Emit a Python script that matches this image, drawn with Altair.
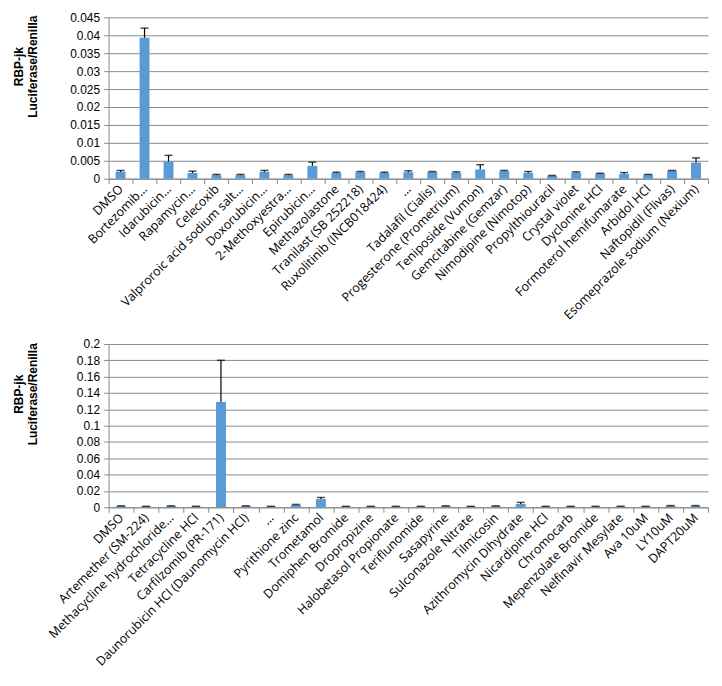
import altair as alt
import pandas as pd

# ---------------- data ----------------
top_names = [
    "DMSO", "Bortezomib…", "Idarubicin…", "Rapamycin…", "Celecoxib",
    "Valproroic acid sodium salt…", "Doxorubicin…", "2-Methoxyestra…", "Epirubicin…",
    "Methazolastone", "Tranilast (SB 252218)", "Ruxolitinib (INCB018424)", "…",
    "Tadalafil (Cialis)", "Progesterone (Prometrium)", "Teniposide (Vumon)",
    "Gemcitabine (Gemzar)", "Nimodipine (Nimotop)", "Propylthiouracil", "Crystal violet",
    "Dyclonine HCl", "Formoterol hemifumarate", "Arbidol HCl", "Naftopidil (Flivas)",
    "Esomeprazole sodium (Nexium)",
]
top_values = [0.0019, 0.0393, 0.0048, 0.0016, 0.0010, 0.0010, 0.0019, 0.0010, 0.0036,
              0.0016, 0.0018, 0.0016, 0.0018, 0.0019, 0.0017, 0.0026, 0.0021, 0.0016,
              0.0008, 0.0017, 0.0014, 0.0013, 0.0011, 0.0022, 0.0045]
top_errors = [0.0004, 0.0027, 0.0017, 0.0005, 0.0002, 0.0002, 0.0004, 0.0002, 0.0010,
              0.0002, 0.0002, 0.0002, 0.0004, 0.0001, 0.0002, 0.0013, 0.0002, 0.0004,
              0.0001, 0.0002, 0.0001, 0.0004, 0.0001, 0.0001, 0.0013]
top_ticks = [0, 0.005, 0.01, 0.015, 0.02, 0.025, 0.03, 0.035, 0.04, 0.045]

bottom_names = [
    "DMSO", "Artemether (SM-224)", "Methacycline hydrochloride…", "Tetracycline HCl",
    "Carfilzomib (PR-171)", "Daunorubicin HCl (Daunomycin HCl)", "…", "Pyrithione zinc",
    "Trometamol", "Domiphen Bromide", "Dropropizine", "Halobetasol Propionate",
    "Teriflunomide", "Sasapyrine", "Sulconazole Nitrate", "Tilmicosin",
    "Azithromycin Dihydrate", "Nicardipine HCl", "Chromocarb", "Mepenzolate Bromide",
    "Nelfinavir Mesylate", "Ava 10uM", "LY10uM", "DAPT20uM",
]
bottom_values = [0.0015, 0.0010, 0.0015, 0.0010, 0.1290, 0.0015, 0.0010, 0.0030,
                 0.0100, 0.0010, 0.0010, 0.0010, 0.0010, 0.0015, 0.0010, 0.0015,
                 0.0040, 0.0010, 0.0010, 0.0010, 0.0010, 0.0010, 0.0018, 0.0018]
bottom_errors = [0.0003, 0.0002, 0.0003, 0.0002, 0.0510, 0.0003, 0.0002, 0.0005,
                 0.0020, 0.0002, 0.0002, 0.0002, 0.0002, 0.0003, 0.0002, 0.0003,
                 0.0020, 0.0002, 0.0002, 0.0002, 0.0002, 0.0002, 0.0003, 0.0003]
bottom_ticks = [0, 0.02, 0.04, 0.06, 0.08, 0.1, 0.12, 0.14, 0.16, 0.18, 0.2]

GRAY = "#898989"
BLUE = "#5B9BD5"
Y_TITLE = ["RBP-jk", "Luciferase/Renilla"]


def panel(names, values, errors, ticks, width, height, title_y):
    df = pd.DataFrame({"name": names, "value": values, "err": errors})
    df["hi"] = df["value"] + df["err"]

    x = alt.X(
        "name:N", sort=None, title=None,
        scale=alt.Scale(paddingInner=0, paddingOuter=0),
        axis=alt.Axis(
            labelAngle=-45, labelAlign="right", labelBaseline="middle",
            labelFont="Open Sans", labelFontSize=12.5, labelColor="black",
            labelPadding=3, labelLimit=300,
            tickBand="extent", ticks=True, tickSize=5, tickColor=GRAY,
            domainColor=GRAY, grid=False,
        ),
    )
    yscale = alt.Scale(domain=[ticks[0], ticks[-1]], nice=False)
    yaxis = alt.Axis(
        values=ticks, format="~g", grid=True, gridColor=GRAY, gridOpacity=1,
        domainColor=GRAY, tickColor=GRAY, tickSize=5,
        labelFont="Liberation Sans", labelFontSize=12, labelColor="black",
        labelPadding=4,
        title=Y_TITLE, titleFont="Liberation Sans", titleFontSize=12,
        titleFontWeight="bold", titleColor="black",
        titleX=-90, titleY=title_y, titleAlign="center", titleBaseline="middle",
        titleLineHeight=14,
    )

    base = alt.Chart(df)
    bars = base.mark_bar(size=10, color=BLUE).encode(
        x=x, y=alt.Y("value:Q", scale=yscale, axis=yaxis)
    )
    rule = base.mark_rule(color="black", strokeWidth=1.2).encode(
        x=x, y=alt.Y("value:Q", scale=yscale, axis=yaxis), y2="hi:Q"
    )
    cap = base.mark_tick(color="black", size=8, thickness=1.5, orient="horizontal").encode(
        x=x, y=alt.Y("hi:Q", scale=yscale, axis=yaxis)
    )
    return alt.layer(bars, rule, cap).properties(width=width, height=height)


top = panel(top_names, top_values, top_errors, top_ticks, 602, 162, 49)
bottom = panel(bottom_names, bottom_values, bottom_errors, bottom_ticks, 602, 164, 50)

chart = alt.vconcat(top, bottom, spacing=16).properties(
    padding={"left": 5, "top": 2, "right": 5, "bottom": 2},
    background="white",
).configure_view(stroke=None)

chart.save("out.html", embed_options={"renderer": "svg", "actions": False})
